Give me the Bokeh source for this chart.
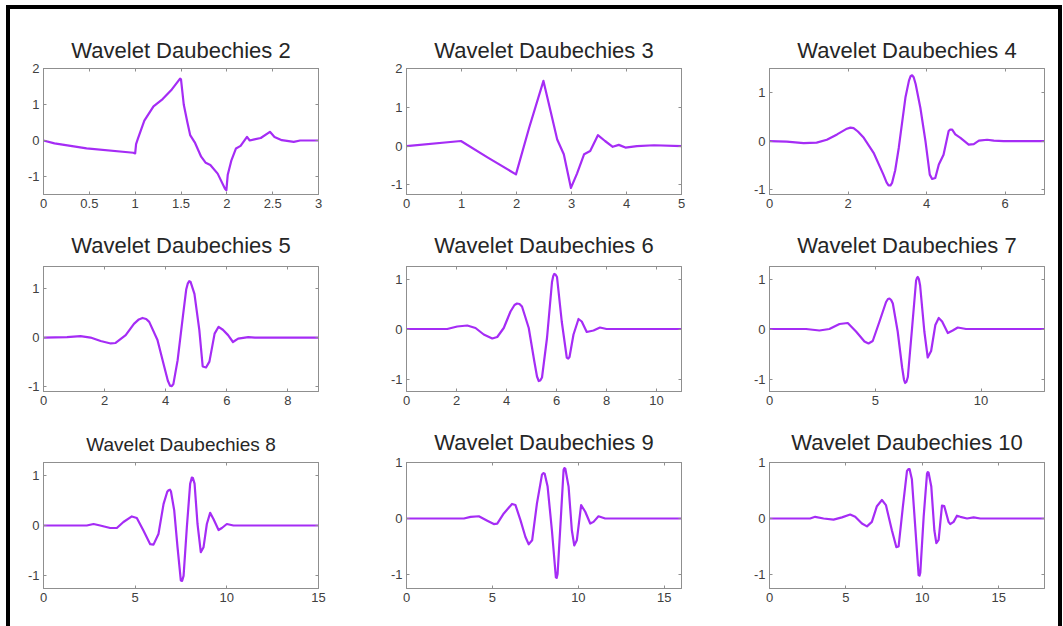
from bokeh.plotting import figure
from bokeh.models import LinearAxis, FixedTicker, Range1d, NumeralTickFormatter, CustomLabelingPolicy
from bokeh.layouts import row, column
from bokeh.embed import file_html
from bokeh.resources import INLINE

titles = ["Wavelet Daubechies 2", "Wavelet Daubechies 3", "Wavelet Daubechies 4",
          "Wavelet Daubechies 5", "Wavelet Daubechies 6", "Wavelet Daubechies 7",
          "Wavelet Daubechies 8", "Wavelet Daubechies 9", "Wavelet Daubechies 10"]

db2_x = [0, 0.12, 0.47, 0.98, 1.0, 1.01, 1.03, 1.1, 1.2, 1.3, 1.4, 1.49, 1.5, 1.53, 1.57, 1.6, 1.65,
         1.72, 1.77, 1.82, 1.9, 1.98, 1.995, 2.01, 2.05, 2.1, 2.15, 2.22, 2.25, 2.3, 2.37, 2.47, 2.52,
         2.6, 2.73, 2.8, 3.0]
db2_y = [0, -0.08, -0.22, -0.34, -0.36, -0.1, 0.05, 0.55, 0.95, 1.15, 1.42, 1.72, 1.70, 1.0, 0.5,
         0.15, -0.05, -0.45, -0.62, -0.68, -0.92, -1.34, -1.38, -0.95, -0.55, -0.22, -0.15, 0.1, 0.0,
         0.03, 0.07, 0.24, 0.1, 0.01, -0.04, 0.0, 0.0]

db3_x = [0, 0.99, 1.48, 1.99, 2.23, 2.49, 2.62, 2.74, 2.86, 2.99, 3.1, 3.23, 3.34, 3.48, 3.61, 3.75,
         3.86, 3.98, 4.19, 4.5, 5.0]
db3_y = [0, 0.13, -0.3, -0.73, 0.47, 1.68, 0.9, 0.17, -0.21, -1.08, -0.71, -0.21, -0.13, 0.28, 0.13,
         -0.02, 0.03, -0.04, 0.0, 0.02, 0.0]

db4_x = [0, 0.44, 0.87, 1.2, 1.46, 1.72, 1.95, 2.06, 2.14, 2.25, 2.4, 2.65, 2.9, 2.98, 3.03, 3.08,
         3.12, 3.2, 3.29, 3.46, 3.55, 3.59, 3.63, 3.67, 3.72, 3.84, 3.97, 4.08, 4.14, 4.22, 4.31,
         4.43, 4.56, 4.6, 4.65, 4.73, 4.86, 5.07, 5.2, 5.33, 5.54, 5.71, 5.96, 7.0]
db4_y = [0, -0.01, -0.04, -0.03, 0.03, 0.14, 0.25, 0.28, 0.27, 0.2, 0.07, -0.24, -0.69, -0.85, -0.91,
         -0.91, -0.86, -0.6, -0.14, 0.9, 1.25, 1.34, 1.36, 1.32, 1.18, 0.69, 0.0, -0.69, -0.78, -0.76,
         -0.48, -0.28, 0.21, 0.24, 0.24, 0.14, 0.07, -0.07, -0.06, 0.01, 0.03, 0.01, 0.0, 0.0]

db5_x = [0, 0.77, 1.21, 1.54, 1.87, 2.2, 2.36, 2.69, 2.96, 3.12, 3.24, 3.36, 3.46, 3.73, 3.95, 4.07,
         4.14, 4.2, 4.25, 4.39, 4.56, 4.67, 4.72, 4.77, 4.81, 4.94, 5.1, 5.21, 5.32, 5.43, 5.6, 5.73,
         5.87, 6.04, 6.2, 6.37, 6.7, 6.92, 9.0]
db5_y = [0, 0.01, 0.03, 0.0, -0.07, -0.12, -0.11, 0.05, 0.28, 0.37, 0.4, 0.38, 0.32, -0.05, -0.59,
         -0.88, -0.98, -0.99, -0.95, -0.46, 0.42, 0.98, 1.1, 1.15, 1.14, 0.89, 0.15, -0.59, -0.61,
         -0.49, 0.08, 0.22, 0.16, 0.05, -0.09, -0.02, 0.01, 0.0, 0.0]

db6_x = [0, 1.63, 2.03, 2.43, 2.76, 3.09, 3.43, 3.63, 3.89, 4.16, 4.32, 4.42, 4.52, 4.62, 4.89, 5.11,
         5.22, 5.29, 5.35, 5.42, 5.62, 5.82, 5.87, 5.91, 5.96, 6.02, 6.21, 6.41, 6.47, 6.52, 6.68,
         6.88, 7.01, 7.21, 7.48, 7.74, 8.0, 11.0]
db6_y = [0, 0.0, 0.05, 0.07, 0.02, -0.11, -0.19, -0.16, 0.02, 0.35, 0.48, 0.51, 0.5, 0.45, 0.02,
         -0.64, -0.95, -1.04, -1.03, -0.97, -0.18, 0.94, 1.06, 1.1, 1.09, 1.04, 0.15, -0.57, -0.59,
         -0.56, -0.11, 0.2, 0.15, -0.06, -0.03, 0.03, 0.0, 0.0]

db7_x = [0, 1.73, 2.36, 2.83, 3.31, 3.7, 4.09, 4.49, 4.68, 4.88, 5.2, 5.51, 5.6, 5.67, 5.75, 5.83,
         6.06, 6.27, 6.36, 6.41, 6.47, 6.54, 6.74, 6.93, 6.97, 7.01, 7.06, 7.12, 7.32, 7.48, 7.64,
         7.84, 8.0, 8.16, 8.43, 8.66, 8.9, 9.29, 13.0]
db7_y = [0, 0.0, -0.03, 0.0, 0.1, 0.12, -0.05, -0.25, -0.29, -0.24, 0.15, 0.54, 0.6, 0.61, 0.58,
         0.51, -0.05, -0.77, -1.02, -1.08, -1.06, -0.96, 0.02, 0.97, 1.02, 1.04, 1.0, 0.87, -0.05,
         -0.57, -0.44, 0.08, 0.22, 0.15, -0.08, -0.03, 0.03, 0.0, 0.0]

db8_x = [0, 2.36, 2.73, 3.09, 3.64, 4.0, 4.36, 4.82, 5.09, 5.45, 5.82, 6.0, 6.27, 6.55, 6.75, 6.82,
         6.9, 6.95, 7.13, 7.31, 7.49, 7.56, 7.64, 7.82, 8.0, 8.09, 8.15, 8.24, 8.4, 8.58, 8.73, 8.91,
         9.09, 9.27, 9.55, 9.73, 10.0, 10.36, 15.0]
db8_y = [0, 0.0, 0.03, 0.0, -0.05, -0.05, 0.07, 0.18, 0.15, -0.1, -0.37, -0.38, -0.17, 0.43, 0.67,
         0.7, 0.71, 0.68, 0.3, -0.43, -1.09, -1.1, -1.0, -0.03, 0.83, 0.95, 0.94, 0.83, 0.03, -0.53,
         -0.43, 0.03, 0.25, 0.13, -0.09, -0.05, 0.03, 0.0, 0.0]

db9_x = [0, 3.34, 3.73, 4.21, 4.7, 5.08, 5.28, 5.66, 6.14, 6.34, 6.63, 6.92, 7.11, 7.31, 7.59, 7.88,
         7.96, 8.04, 8.21, 8.46, 8.69, 8.74, 8.79, 8.95, 9.14, 9.19, 9.24, 9.43, 9.62, 9.76, 9.91,
         10.16, 10.4, 10.69, 10.88, 11.17, 11.56, 16.0]
db9_y = [0, 0.0, 0.03, 0.04, -0.04, -0.1, -0.09, 0.09, 0.26, 0.24, -0.03, -0.33, -0.46, -0.39, 0.27,
         0.78, 0.81, 0.8, 0.57, -0.21, -1.05, -1.06, -0.99, -0.15, 0.87, 0.9, 0.89, 0.57, -0.21, -0.48,
         -0.39, 0.24, 0.12, -0.09, -0.06, 0.04, 0.0, 0.0]

db10_x = [0, 2.66, 2.99, 3.54, 4.19, 4.74, 5.28, 5.61, 6.05, 6.38, 6.7, 7.03, 7.36, 7.62, 8.01, 8.3,
          8.45, 8.73, 9.0, 9.09, 9.17, 9.32, 9.54, 9.76, 9.82, 9.87, 10.09, 10.31, 10.36, 10.41, 10.59,
          10.79, 10.92, 11.07, 11.29, 11.44, 11.72, 11.83, 12.05, 12.27, 12.49, 12.93, 13.36, 13.8,
          18.0]
db10_y = [0, 0.0, 0.03, 0.0, -0.02, 0.02, 0.07, 0.03, -0.09, -0.14, -0.06, 0.22, 0.33, 0.24, -0.21,
          -0.51, -0.5, 0.21, 0.85, 0.88, 0.88, 0.7, -0.15, -1.01, -1.02, -0.97, 0.03, 0.8, 0.83, 0.82,
          0.57, -0.21, -0.44, -0.38, 0.23, 0.22, -0.06, -0.1, -0.06, 0.05, 0.03, 0.0, 0.02, 0.0, 0.0]

series_x = [db2_x, db3_x, db4_x, db5_x, db6_x, db7_x, db8_x, db9_x, db10_x]
series_y = [db2_y, db3_y, db4_y, db5_y, db6_y, db7_y, db8_y, db9_y, db10_y]

x_max = [3, 5, 7, 9, 11, 13, 15, 16, 18]
y_min = [-1.5, -1.25, -1.1, -1.1, -1.25, -1.25, -1.25, -1.25, -1.25]
y_max = [2, 2, 1.5, 1.45, 1.25, 1.25, 1.25, 1.0, 1.0]
x_ticks = [[0, 0.5, 1, 1.5, 2, 2.5, 3], [0, 1, 2, 3, 4, 5], [0, 2, 4, 6], [0, 2, 4, 6, 8],
           [0, 2, 4, 6, 8, 10], [0, 5, 10], [0, 5, 10, 15], [0, 5, 10, 15], [0, 5, 10, 15]]
y_ticks = [[-1, 0, 1, 2], [-1, 0, 1, 2], [-1, 0, 1], [-1, 0, 1], [-1, 0, 1], [-1, 0, 1],
           [-1, 0, 1], [-1, 0, 1], [-1, 0, 1]]

FONT = "Liberation Sans"
LINE = "#a52cf5"
FRAME = "#8f8f8f"
LABEL = "#404040"

col_left = [33, 33, 33]
col_right = [55, 55, 14]
row_top = [59, 46, 47]
row_bottom = [26, 24, 38]
row_fh = [126, 125, 126]
row_standoff = [12, 17, 16]
title_size = ["22px", "22px", "22px", "22px", "22px", "22px", "19px", "22px", "22px"]

HIDE_ALL = """
try {
    for (let i = 0; i < indices.size; i++) { indices.unset(i) }
} catch (e) {}
return indices
"""


def style_axis(ax, labels=True):
    ax.axis_line_color = FRAME
    ax.axis_line_width = 1
    ax.major_tick_line_color = FRAME
    ax.major_tick_in = 3
    ax.major_tick_out = 0
    ax.minor_tick_line_color = None
    if labels:
        ax.major_label_text_font = FONT
        ax.major_label_text_font_size = "13px"
        ax.major_label_text_color = LABEL
        ax.major_label_standoff = 4
    else:
        ax.major_label_text_font_size = "0px"
        ax.major_label_standoff = 0
        ax.major_label_policy = CustomLabelingPolicy(code=HIDE_ALL)


figs = []
for i in range(9):
    r, c = divmod(i, 3)
    p = figure(frame_width=275, frame_height=row_fh[r],
               x_range=Range1d(0, x_max[i]), y_range=Range1d(y_min[i], y_max[i]),
               output_backend="svg", toolbar_location=None,
               min_border_left=col_left[c], min_border_right=col_right[c],
               min_border_top=row_top[r], min_border_bottom=row_bottom[r],
               background_fill_color="white", border_fill_color="white",
               x_axis_location=None, y_axis_location=None)
    p.title.text = titles[i]
    p.title.align = "center"
    p.title.text_font = FONT
    p.title.text_font_size = title_size[i]
    p.title.text_font_style = "normal"
    p.title.text_color = "#262626"
    p.title.standoff = row_standoff[r]
    p.grid.visible = False
    p.outline_line_color = FRAME

    fmt = NumeralTickFormatter(format="0.[0]")
    xb = LinearAxis(ticker=FixedTicker(ticks=x_ticks[i]), formatter=fmt)
    yl = LinearAxis(ticker=FixedTicker(ticks=y_ticks[i]), formatter=fmt)
    xt = LinearAxis(ticker=FixedTicker(ticks=x_ticks[i]))
    yr = LinearAxis(ticker=FixedTicker(ticks=y_ticks[i]))
    style_axis(xb)
    style_axis(yl)
    style_axis(xt, labels=False)
    style_axis(yr, labels=False)
    p.add_layout(xb, "below")
    p.add_layout(yl, "left")
    p.add_layout(xt, "above")
    p.add_layout(yr, "right")

    p.line(series_x[i], series_y[i], line_color=LINE, line_width=2.2, line_join="round")
    figs.append(p)

grid = column(row(figs[0], figs[1], figs[2]),
              row(figs[3], figs[4], figs[5]),
              row(figs[6], figs[7], figs[8]))
outer = column(grid, margin=(5, 0, 0, 6),
               styles={"border-top": "4px solid black", "border-left": "4px solid black",
                       "border-right": "4px solid black"})

open("out.html", "w").write(file_html(outer, INLINE))
